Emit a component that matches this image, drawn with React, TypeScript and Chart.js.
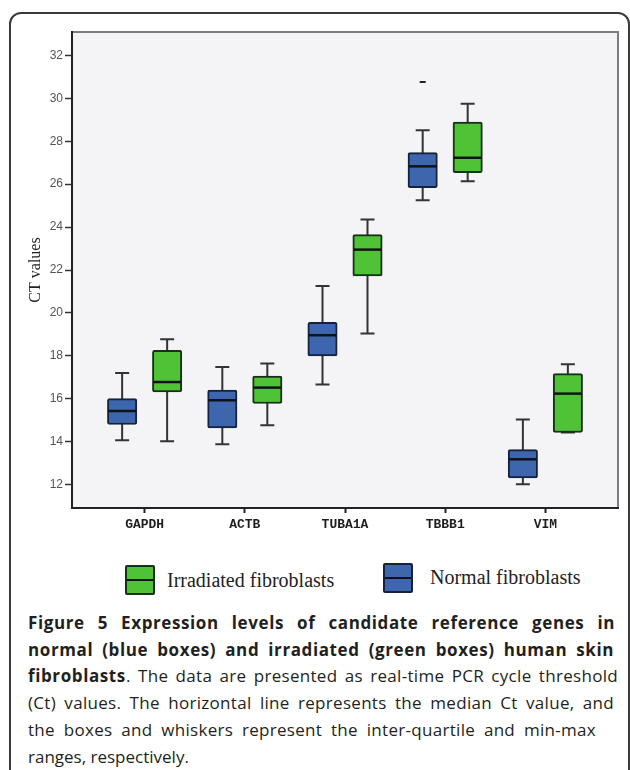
import React, { useEffect, useRef } from 'react';
import { Chart, registerables } from 'chart.js';

Chart.register(...registerables);

// ---- data ----
const categories = ['GAPDH', 'ACTB', 'TUBA1A', 'TBBB1', 'VIM'];
const yTickValues = [12, 14, 16, 18, 20, 22, 24, 26, 28, 30, 32];

const normalLabel = 'Normal fibroblasts';
const normalMin = [14.07, 13.88, 16.66, 25.25, 12.02];
const normalQ1 = [14.8, 14.64, 18.0, 25.84, 12.31];
const normalMedian = [15.43, 15.93, 18.96, 26.83, 13.18];
const normalQ3 = [16.01, 16.4, 19.56, 27.47, 13.63];
const normalMax = [17.2, 17.48, 21.26, 28.51, 15.03];
const normalOutliers = [[], [], [], [30.76], []];

const irradiatedLabel = 'Irradiated fibroblasts';
const irradiatedMin = [14.02, 14.77, 19.04, 26.13, 14.43];
const irradiatedQ1 = [16.32, 15.78, 21.72, 26.54, 14.43];
const irradiatedMedian = [16.78, 16.52, 22.95, 27.23, 16.24];
const irradiatedQ3 = [18.26, 17.06, 23.65, 28.89, 17.17];
const irradiatedMax = [18.77, 17.64, 24.35, 29.75, 17.61];
const irradiatedOutliers = [[], [], [], [], []];

const blueFill = '#3d66ae';
const blueBorder = '#16223a';
const greenFill = '#50c235';
const greenBorder = '#17301a';

const seriesStats = [
  { min: normalMin, median: normalMedian, max: normalMax, outliers: normalOutliers },
  { min: irradiatedMin, median: irradiatedMedian, max: irradiatedMax, outliers: irradiatedOutliers },
];

const boxPlugin = {
  id: 'boxWhiskers',
  beforeDraw(chart: any) {
    const { ctx, chartArea: a } = chart;
    ctx.save();
    ctx.fillStyle = '#f4f4f6';
    ctx.fillRect(a.left, a.top, a.right - a.left, a.bottom - a.top);
    ctx.strokeStyle = '#7d7d7d';
    ctx.lineWidth = 2;
    ctx.beginPath();
    ctx.moveTo(a.left, a.top);
    ctx.lineTo(a.right, a.top);
    ctx.lineTo(a.right, a.bottom);
    ctx.stroke();
    ctx.restore();
  },
  beforeDatasetsDraw(chart: any) {
    const { ctx } = chart;
    const yScale = chart.scales.y;
    ctx.save();
    ctx.strokeStyle = '#333';
    ctx.lineWidth = 2;
    seriesStats.forEach((st, di) => {
      const meta = chart.getDatasetMeta(di);
      meta.data.forEach((bar: any, i: number) => {
        const x = bar.x;
        const yMin = yScale.getPixelForValue(st.min[i]);
        const yMax = yScale.getPixelForValue(st.max[i]);
        const cap = 7;
        ctx.beginPath();
        ctx.moveTo(x, yMax);
        ctx.lineTo(x, yMin);
        ctx.moveTo(x - cap, yMax);
        ctx.lineTo(x + cap, yMax);
        ctx.moveTo(x - cap, yMin);
        ctx.lineTo(x + cap, yMin);
        ctx.stroke();
      });
    });
    ctx.restore();
  },
  afterDatasetsDraw(chart: any) {
    const { ctx } = chart;
    const yScale = chart.scales.y;
    ctx.save();
    seriesStats.forEach((st, di) => {
      const meta = chart.getDatasetMeta(di);
      meta.data.forEach((bar: any, i: number) => {
        const half = bar.width / 2;
        const ym = yScale.getPixelForValue(st.median[i]);
        ctx.strokeStyle = '#0f1318';
        ctx.lineWidth = 2.5;
        ctx.beginPath();
        ctx.moveTo(bar.x - half + 1, ym);
        ctx.lineTo(bar.x + half - 1, ym);
        ctx.stroke();
        st.outliers[i].forEach((v: number) => {
          const yo = yScale.getPixelForValue(v);
          ctx.strokeStyle = '#222';
          ctx.lineWidth = 2;
          ctx.beginPath();
          ctx.moveTo(bar.x - 3, yo);
          ctx.lineTo(bar.x + 3, yo);
          ctx.stroke();
        });
      });
    });
    ctx.restore();
  },
};

function ChartCanvas() {
  const ref = useRef<HTMLCanvasElement | null>(null);
  useEffect(() => {
    if (!ref.current) return;
    const chart = new Chart(ref.current, {
      type: 'bar',
      data: {
        datasets: [
          {
            label: normalLabel,
            data: categories.map((_, i) => ({ x: i, y: [normalQ1[i], normalQ3[i]] })) as any,
            backgroundColor: blueFill,
            borderColor: blueBorder,
            borderWidth: 2,
            borderSkipped: false,
            borderRadius: 2,
            barThickness: 45,
            maxBarThickness: 29.4,
          },
          {
            label: irradiatedLabel,
            data: categories.map((_, i) => ({ x: i, y: [irradiatedQ1[i], irradiatedQ3[i]] })) as any,
            backgroundColor: greenFill,
            borderColor: greenBorder,
            borderWidth: 2,
            borderSkipped: false,
            borderRadius: 2,
            barThickness: 45,
            maxBarThickness: 29.4,
          },
        ],
      },
      options: {
        animation: false,
        responsive: false,
        layout: { padding: { top: 32, right: 12, left: 0, bottom: 0 } },
        plugins: {
          legend: { display: false },
          tooltip: { enabled: false },
        },
        scales: {
          x: {
            type: 'linear',
            min: -0.725,
            max: 4.725,
            offset: false,
            afterBuildTicks: (s: any) => {
              s.ticks = categories.map((_, i) => ({ value: i }));
            },
            afterFit: (s: any) => {
              s.height = 37;
            },
            ticks: {
              autoSkip: false,
              maxRotation: 0,
              padding: 4,
              color: '#1e1e1e',
              font: { family: 'Liberation Mono', size: 13, weight: 'bold' },
              callback: (v: any) => categories[v] ?? '',
            },
            grid: {
              display: true,
              offset: false,
              drawOnChartArea: false,
              drawTicks: true,
              tickLength: 5,
              tickColor: '#222',
              tickWidth: 2,
            },
            border: { display: true, color: '#222', width: 2 },
          },
          y: {
            type: 'linear',
            min: 10.91,
            max: 33.09,
            afterBuildTicks: (s: any) => {
              s.ticks = yTickValues.map((v) => ({ value: v }));
            },
            afterFit: (s: any) => {
              s.width = 72;
            },
            ticks: {
              padding: 2,
              color: '#555',
              font: { family: 'Liberation Sans', size: 12 },
            },
            grid: {
              display: true,
              drawOnChartArea: false,
              drawTicks: true,
              tickLength: 7,
              tickColor: '#333',
              tickWidth: 1.5,
            },
            border: { display: true, color: '#222', width: 2 },
            title: {
              display: true,
              text: 'CT values',
              color: '#222',
              font: { family: 'Liberation Serif', size: 16 },
              padding: { top: 26, bottom: 0 },
            },
          },
        },
      } as any,
      plugins: [boxPlugin],
    });
    return () => chart.destroy();
  }, []);
  return (
    <canvas
      ref={ref}
      width={630}
      height={545}
      style={{ position: 'absolute', left: 0, top: 0, width: 630, height: 545 }}
    />
  );
}

function LegendBox({ fill, border }: { fill: string; border: string }) {
  return (
    <div
      style={{
        position: 'relative',
        width: 30,
        height: 30,
        boxSizing: 'border-box',
        background: fill,
        border: `2px solid ${border}`,
        borderRadius: 2,
      }}
    >
      <div
        style={{
          position: 'absolute',
          left: 0,
          right: 0,
          top: 11.5,
          height: 2.5,
          background: '#0f1318',
        }}
      />
    </div>
  );
}

const captionStyle: React.CSSProperties = {
  position: 'absolute',
  left: 28,
  fontFamily: '"Open Sans", sans-serif',
  fontSize: 17,
  color: '#231f20',
  height: 26.7,
  lineHeight: '26.7px',
  letterSpacing: '0.3px',
  textAlign: 'justify',
  textAlignLast: 'justify' as any,
};

const boldLine: React.CSSProperties = { fontWeight: 700, letterSpacing: '0.6px' };

export default function App() {
  return (
    <div
      style={{
        position: 'absolute',
        left: 0,
        top: 0,
        width: 630,
        height: 770,
        overflow: 'hidden',
        background: '#fff',
      }}
    >
      <div
        style={{
          position: 'absolute',
          left: 9,
          top: 12,
          width: 621,
          height: 800,
          boxSizing: 'border-box',
          border: '2px solid #3a3a3a',
          borderRadius: '12px 12px 0 0',
        }}
      />
      <ChartCanvas />
      {/* legend */}
      <div style={{ position: 'absolute', left: 125, top: 565 }}>
        <LegendBox fill={greenFill} border={greenBorder} />
      </div>
      <div
        style={{
          position: 'absolute',
          left: 167,
          top: 566,
          fontFamily: '"Liberation Serif", serif',
          fontSize: 20,
          lineHeight: '28px',
          color: '#222',
          whiteSpace: 'nowrap',
        }}
      >
        {irradiatedLabel}
      </div>
      <div style={{ position: 'absolute', left: 383, top: 563 }}>
        <LegendBox fill={blueFill} border={blueBorder} />
      </div>
      <div
        style={{
          position: 'absolute',
          left: 430,
          top: 563,
          fontFamily: '"Liberation Serif", serif',
          fontSize: 20,
          lineHeight: '28px',
          color: '#222',
          whiteSpace: 'nowrap',
        }}
      >
        {normalLabel}
      </div>
      {/* caption */}
      <div style={{ ...captionStyle, ...boldLine, top: 610, width: 587 }}>
        Figure 5 Expression levels of candidate reference genes in
      </div>
      <div style={{ ...captionStyle, ...boldLine, top: 636.7, width: 586 }}>
        normal (blue boxes) and irradiated (green boxes) human skin
      </div>
      <div style={{ ...captionStyle, top: 663.4, width: 590 }}>
        <b style={{ letterSpacing: '0.6px' }}>fibroblasts</b>. The data are presented as real-time PCR cycle threshold
      </div>
      <div style={{ ...captionStyle, top: 690.1, width: 586 }}>
        (Ct) values. The horizontal line represents the median Ct value, and
      </div>
      <div style={{ ...captionStyle, top: 716.8, width: 568 }}>
        the boxes and whiskers represent the inter-quartile and min-max
      </div>
      <div
        style={{
          ...captionStyle,
          top: 743.5,
          letterSpacing: '0px',
          textAlign: 'left',
          textAlignLast: 'left' as any,
          whiteSpace: 'nowrap',
        }}
      >
        ranges, respectively.
      </div>
    </div>
  );
}
